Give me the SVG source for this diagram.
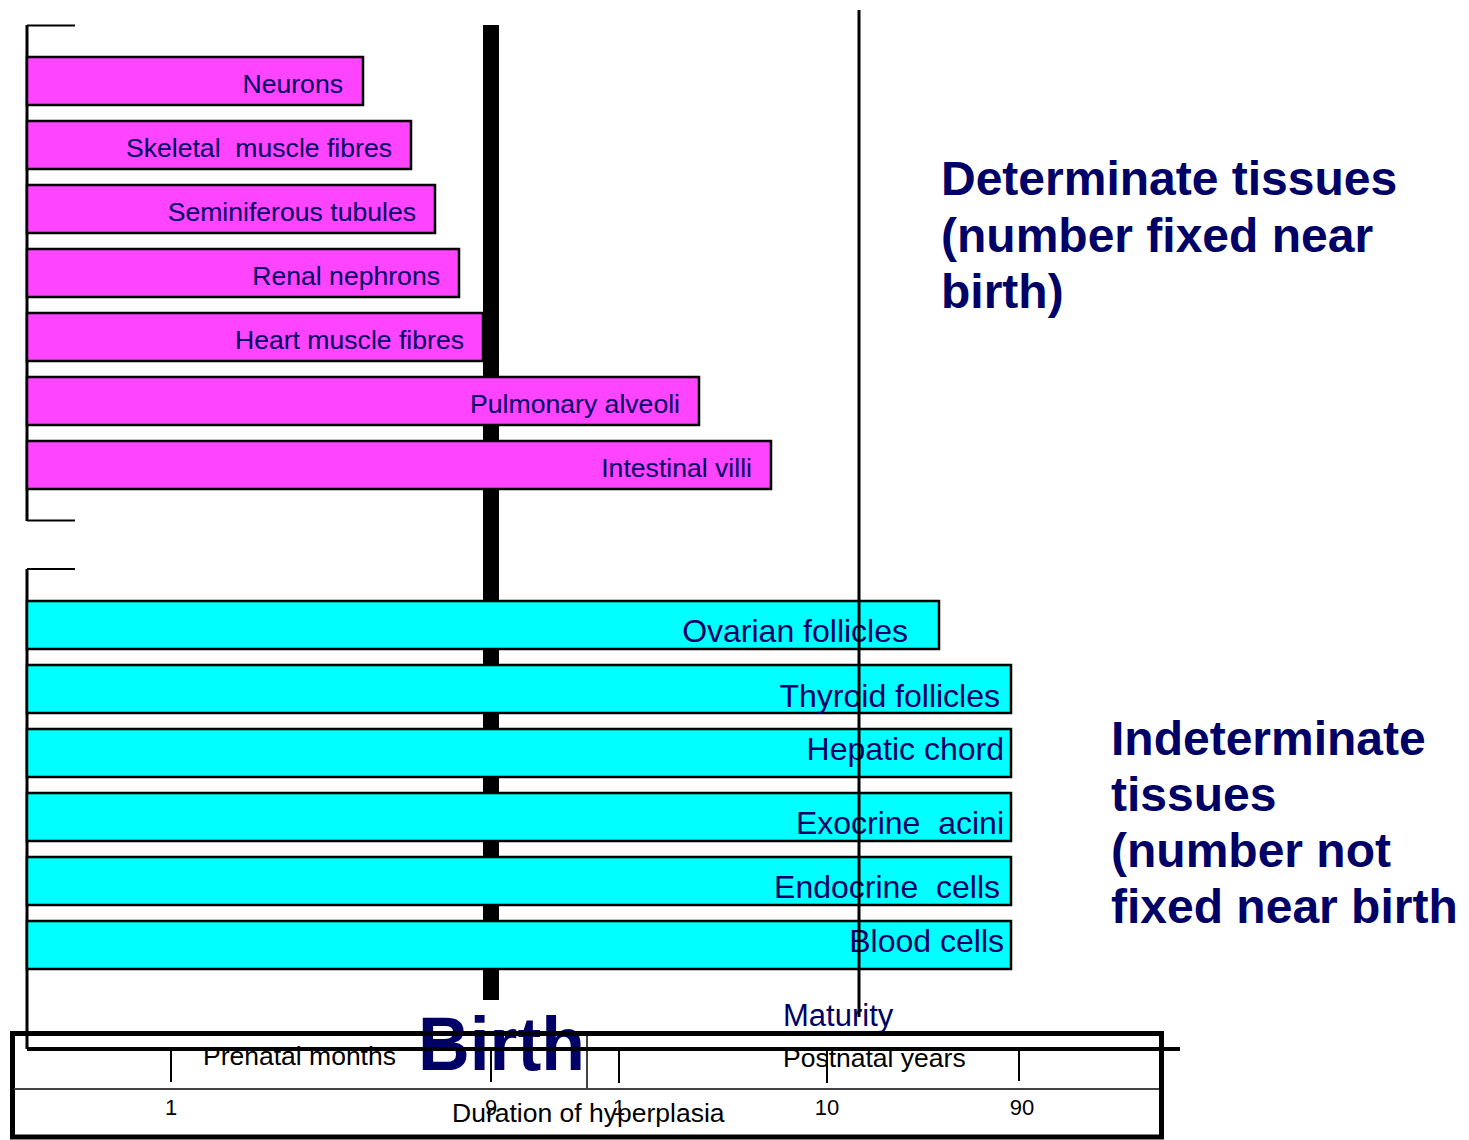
<svg xmlns="http://www.w3.org/2000/svg" width="1469" height="1140" viewBox="0 0 1469 1140">
<style>
.mag{fill:#FF44FF;stroke:#000;stroke-width:2.5}
.cy{fill:#00FFFF;stroke:#000;stroke-width:2.5}
.lbl{font-family:"Liberation Sans",Arial,sans-serif;font-size:26.6px;fill:#000066;text-anchor:end;white-space:pre}
.lblc{font-family:"Liberation Sans",Arial,sans-serif;font-size:32px;fill:#000066;text-anchor:end;white-space:pre}
.head{font-family:"Liberation Sans",Arial,sans-serif;font-size:48px;font-weight:bold;fill:#000066}
.ax{font-family:"Liberation Sans",Arial,sans-serif;font-size:26.5px;fill:#000}
.num{font-family:"Liberation Sans",Arial,sans-serif;font-size:22px;fill:#000;text-anchor:middle}
.ln{stroke:#000;fill:none}
</style>
<rect width="1469" height="1140" fill="#fff"/>
<g id="birth-bar"><rect x="483" y="25" width="16" height="975" fill="#000"/></g>
<g id="brackets" class="ln">
<path d="M27,25 V521" stroke-width="3"/>
<path d="M27,25.5 H75 M27,520.5 H75" stroke-width="2"/>
<path d="M27,569 V1049" stroke-width="3"/>
<path d="M27,569 H75" stroke-width="2"/>
</g>
<g id="neurons"><rect class="mag" x="27" y="57" width="336" height="48"/><text class="lbl" x="343" y="93">Neurons</text></g>
<g id="skeletal"><rect class="mag" x="27" y="121" width="384" height="48"/><text class="lbl" x="392" y="157">Skeletal  muscle fibres</text></g>
<g id="seminiferous"><rect class="mag" x="27" y="185" width="408" height="48"/><text class="lbl" x="416" y="221">Seminiferous tubules</text></g>
<g id="renal"><rect class="mag" x="27" y="249" width="432" height="48"/><text class="lbl" x="440" y="285">Renal nephrons</text></g>
<g id="heart"><rect class="mag" x="27" y="313" width="456" height="48"/><text class="lbl" x="464" y="349">Heart muscle fibres</text></g>
<g id="pulmonary"><rect class="mag" x="27" y="377" width="672" height="48"/><text class="lbl" x="680" y="413">Pulmonary alveoli</text></g>
<g id="intestinal"><rect class="mag" x="27" y="441" width="744" height="48"/><text class="lbl" x="752" y="477">Intestinal villi</text></g>
<g id="ovarian"><rect class="cy" x="27" y="601" width="912" height="48"/><text class="lblc" x="908" y="642">Ovarian follicles</text></g>
<g id="thyroid"><rect class="cy" x="27" y="665" width="984" height="48"/><text class="lblc" x="1000" y="707">Thyroid follicles</text></g>
<g id="hepatic"><rect class="cy" x="27" y="729" width="984" height="48"/><text class="lblc" x="1004" y="760">Hepatic chord</text></g>
<g id="exocrine"><rect class="cy" x="27" y="793" width="984" height="48"/><text class="lblc" x="1004" y="834">Exocrine  acini</text></g>
<g id="endocrine"><rect class="cy" x="27" y="857" width="984" height="48"/><text class="lblc" x="1000" y="898">Endocrine  cells</text></g>
<g id="blood"><rect class="cy" x="27" y="921" width="984" height="48"/><text class="lblc" x="1004" y="952">Blood cells</text></g>
<g id="determinate"><text class="head" x="941" y="195">Determinate tissues</text><text class="head" x="941" y="252">(number fixed near</text><text class="head" x="941" y="308">birth)</text></g>
<g id="indeterminate"><text class="head" x="1111" y="755">Indeterminate</text><text class="head" x="1111" y="811">tissues</text><text class="head" x="1111" y="867">(number not</text><text class="head" x="1111" y="923">fixed near birth</text></g>
<g id="maturity"><text x="783" y="1026" font-family="Liberation Sans, Arial, sans-serif" font-size="31" fill="#000066">Maturity</text></g>
<g id="birth"><text x="418" y="1070" font-family="Liberation Sans, Arial, sans-serif" font-size="76" font-weight="bold" fill="#000066" textLength="167" lengthAdjust="spacingAndGlyphs">Birth</text></g>
<g id="connectors" class="ln">
<path d="M859,10 V1017" stroke-width="3"/>
<rect x="12.5" y="1033.5" width="1149" height="103.5" stroke-width="5"/>
<path d="M14,1089 H1159" stroke="#444" stroke-width="2"/>
<path d="M587,1036 V1090" stroke="#444" stroke-width="2"/>
<path d="M27,1049 H1180" stroke-width="4"/>
<path d="M171,1050 V1082 M491,1050 V1082 M619,1050 V1083 M827,1050 V1083 M1019,1050 V1081" stroke-width="2"/>
</g>
<g id="axis-labels">
<text class="ax" x="203" y="1065">Prenatal months</text>
<text class="ax" x="783" y="1067">Postnatal years</text>
<text class="ax" x="452" y="1122">Duration of hyperplasia</text>
<text class="num" x="171" y="1115">1</text>
<text class="num" x="491" y="1115">9</text>
<text class="num" x="619" y="1115">1</text>
<text class="num" x="827" y="1115">10</text>
<text class="num" x="1022" y="1115">90</text>
</g>
</svg>
